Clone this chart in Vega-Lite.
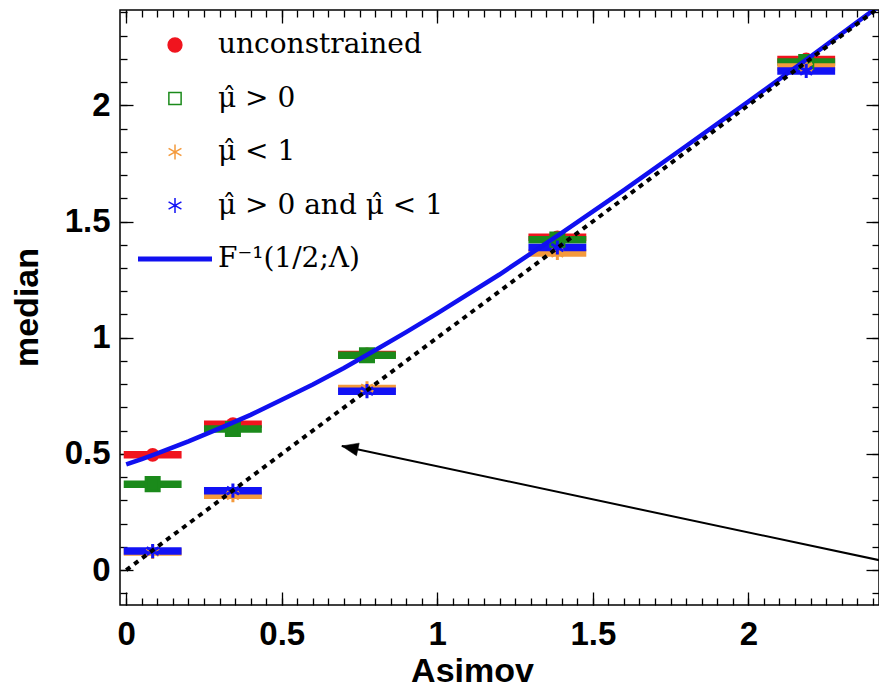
{
  "$schema": "https://vega.github.io/schema/vega-lite/v6.json",
  "width": 759,
  "height": 595,
  "autosize": {"type": "none"},
  "padding": {"left": 120, "top": 10, "right": 0, "bottom": 83},
  "background": "white",
  "config": {
    "view": {"stroke": "black", "strokeWidth": 1.5},
    "axis": {
      "grid": false, "domain": false, "tickColor": "black", "tickWidth": 1.3,
      "labelFont": "Liberation Sans", "labelFontWeight": "bold", "labelFontSize": 33, "labelColor": "black",
      "titleFont": "Liberation Sans", "titleFontWeight": "bold", "titleFontSize": 34, "titleColor": "black",
      "labelFlush": false, "labelOverlap": false
    },
    "legend": {
      "orient": "none", "legendX": 41, "legendY": 21,
      "symbolSize": 5476, "symbolStrokeWidth": 1.5, "symbolOffset": 0,
      "labelFont": "DejaVu Serif", "labelFontSize": 28, "labelColor": "black", "labelOffset": 29,
      "rowPadding": 25.5, "labelLimit": 600, "padding": 0
    }
  },
  "datasets": {
    "pts": [
      {"s": "unconstrained", "x": 0.085, "xlo": -0.008, "xhi": 0.178, "y": 0.496},
      {"s": "unconstrained", "x": 0.343, "xlo": 0.25, "xhi": 0.436, "y": 0.628},
      {"s": "unconstrained", "x": 0.774, "xlo": 0.681, "xhi": 0.867, "y": 0.928},
      {"s": "unconstrained", "x": 1.386, "xlo": 1.293, "xhi": 1.479, "y": 1.432},
      {"s": "unconstrained", "x": 2.186, "xlo": 2.093, "xhi": 2.279, "y": 2.197},
      {"s": "μ̂ > 0", "x": 0.085, "xlo": -0.008, "xhi": 0.178, "y": 0.37},
      {"s": "μ̂ > 0", "x": 0.343, "xlo": 0.25, "xhi": 0.436, "y": 0.607},
      {"s": "μ̂ > 0", "x": 0.774, "xlo": 0.681, "xhi": 0.867, "y": 0.925},
      {"s": "μ̂ > 0", "x": 1.386, "xlo": 1.293, "xhi": 1.479, "y": 1.422},
      {"s": "μ̂ > 0", "x": 2.186, "xlo": 2.093, "xhi": 2.279, "y": 2.186},
      {"s": "μ̂ < 1", "x": 0.085, "xlo": -0.008, "xhi": 0.178, "y": 0.078},
      {"s": "μ̂ < 1", "x": 0.343, "xlo": 0.25, "xhi": 0.436, "y": 0.322},
      {"s": "μ̂ < 1", "x": 0.774, "xlo": 0.681, "xhi": 0.867, "y": 0.782},
      {"s": "μ̂ < 1", "x": 1.386, "xlo": 1.293, "xhi": 1.479, "y": 1.365},
      {"s": "μ̂ < 1", "x": 2.186, "xlo": 2.093, "xhi": 2.279, "y": 2.165},
      {"s": "μ̂ > 0 and μ̂ < 1", "x": 0.085, "xlo": -0.008, "xhi": 0.178, "y": 0.082},
      {"s": "μ̂ > 0 and μ̂ < 1", "x": 0.343, "xlo": 0.25, "xhi": 0.436, "y": 0.342},
      {"s": "μ̂ > 0 and μ̂ < 1", "x": 0.774, "xlo": 0.681, "xhi": 0.867, "y": 0.77},
      {"s": "μ̂ > 0 and μ̂ < 1", "x": 1.386, "xlo": 1.293, "xhi": 1.479, "y": 1.388},
      {"s": "μ̂ > 0 and μ̂ < 1", "x": 2.186, "xlo": 2.093, "xhi": 2.279, "y": 2.148}
    ],
    "curve": [
      {"x": 0, "y": 0.455}, {"x": 0.05, "y": 0.478}, {"x": 0.1, "y": 0.502}, {"x": 0.2, "y": 0.554},
      {"x": 0.3, "y": 0.61}, {"x": 0.4, "y": 0.668}, {"x": 0.5, "y": 0.733}, {"x": 0.6, "y": 0.799},
      {"x": 0.7, "y": 0.87}, {"x": 0.8, "y": 0.946}, {"x": 0.9, "y": 1.024}, {"x": 1.0, "y": 1.105},
      {"x": 1.2, "y": 1.272}, {"x": 1.4, "y": 1.451}, {"x": 1.6, "y": 1.635}, {"x": 1.8, "y": 1.825},
      {"x": 2.0, "y": 2.016}, {"x": 2.2, "y": 2.21}, {"x": 2.45, "y": 2.457}
    ],
    "diag": [{"x": 0, "y": 0}, {"x": 2.45, "y": 2.45}],
    "arrow": [{"x": 0.693, "y": 0.534, "x2": 2.45, "y2": 0.0345}]
  },
  "layer": [
    {
      "data": {"name": "pts"},
      "mark": {"type": "rule", "strokeWidth": 7.5, "strokeCap": "butt"},
      "encoding": {
        "x": {"field": "xlo", "type": "quantitative",
          "scale": {"domain": [-0.02, 2.42], "nice": false, "zero": false},
          "axis": {"orient": "bottom", "values": [0, 0.5, 1, 1.5, 2], "format": "~g", "tickSize": -13, "labelPadding": 26,
            "title": "Asimov", "titleX": 352, "titleY": 76, "titleBaseline": "alphabetic", "titleAlign": "center"}},
        "x2": {"field": "xhi"},
        "y": {"field": "y", "type": "quantitative",
          "scale": {"domain": [-0.15, 2.41], "nice": false, "zero": false},
          "axis": {"orient": "left", "values": [0, 0.5, 1, 1.5, 2], "format": "~g", "tickSize": -13, "labelPadding": 23,
            "title": "median", "titleX": -83, "titleY": 297, "titleAngle": -90, "titleAlign": "center", "titleBaseline": "alphabetic"}},
        "stroke": {"field": "s", "type": "nominal",
          "scale": {"domain": ["unconstrained", "μ̂ > 0", "μ̂ < 1", "μ̂ > 0 and μ̂ < 1", "F⁻¹(1/2;Λ)"],
                    "range": ["#f0141e", "#1b8a1b", "#f49a3c", "#1212f5", "#1010f0"]},
          "legend": {"title": null, "encode": {"symbols": {"update": {
                  "size": {"signal": "datum.index === 4 ? 5476 : (datum.index === 0 ? 190 : (datum.index === 1 ? 150 : 220))"},
                  "strokeWidth": {"signal": "datum.index === 4 ? 5 : 1.5"},
                  "opacity": {"value": 1}}}}}}
      }
    },
    {
      "data": {"name": "pts"},
      "transform": [{"filter": "datum.s === 'unconstrained'"}],
      "mark": {"type": "point", "shape": "circle", "size": 190, "filled": true, "color": "#f0141e", "opacity": 1},
      "encoding": {
        "x": {"field": "x", "type": "quantitative", "axis": null},
        "y": {"field": "y", "type": "quantitative", "axis": null}
      }
    },
    {
      "data": {"name": "pts"},
      "transform": [{"filter": "datum.s === 'μ̂ > 0'"}],
      "mark": {"type": "point", "shape": "square", "size": 170, "fill": "#1b8a1b", "stroke": "#1b8a1b", "strokeWidth": 3, "opacity": 1},
      "encoding": {
        "x": {"field": "x", "type": "quantitative", "axis": null},
        "y": {"field": "y", "type": "quantitative", "axis": null}
      }
    },
    {
      "data": {"name": "pts"},
      "transform": [{"filter": "datum.s === 'μ̂ < 1' || datum.s === 'μ̂ > 0 and μ̂ < 1'"}],
      "mark": {"type": "point", "size": 200, "strokeWidth": 3, "opacity": 1},
      "encoding": {
        "x": {"field": "x", "type": "quantitative",
          "axis": {"orient": "bottom", "values": [0,0.05,0.1,0.15,0.2,0.25,0.3,0.35,0.4,0.45,0.5,0.55,0.6,0.65,0.7,0.75,0.8,0.85,0.9,0.95,1,1.05,1.1,1.15,1.2,1.25,1.3,1.35,1.4,1.45,1.5,1.55,1.6,1.65,1.7,1.75,1.8,1.85,1.9,1.95,2,2.05,2.1,2.15,2.2,2.25,2.3,2.35,2.4],
            "tickSize": -7, "labels": false, "title": null}},
        "y": {"field": "y", "type": "quantitative",
          "axis": {"orient": "left", "values": [-0.1,0,0.1,0.2,0.3,0.4,0.5,0.6,0.7,0.8,0.9,1,1.1,1.2,1.3,1.4,1.5,1.6,1.7,1.8,1.9,2,2.1,2.2,2.3,2.4],
            "tickSize": -7, "labels": false, "title": null}},
        "stroke": {"field": "s", "type": "nominal",
          "scale": {"domain": ["unconstrained", "μ̂ > 0", "μ̂ < 1", "μ̂ > 0 and μ̂ < 1", "F⁻¹(1/2;Λ)"],
                    "range": ["#f0141e", "#1b8a1b", "#f49a3c", "#1212f5", "#1010f0"]},
          "legend": {"title": null, "encode": {"symbols": {"update": {
                  "size": {"signal": "datum.index === 4 ? 5476 : (datum.index === 0 ? 190 : (datum.index === 1 ? 150 : 220))"},
                  "strokeWidth": {"signal": "datum.index === 4 ? 5 : 1.5"},
                  "opacity": {"value": 1}}}}}},
        "fill": {"field": "s", "type": "nominal",
          "scale": {"domain": ["unconstrained", "μ̂ > 0", "μ̂ < 1", "μ̂ > 0 and μ̂ < 1", "F⁻¹(1/2;Λ)"],
                    "range": ["#f0141e", "transparent", "#f49a3c", "#1212f5", "transparent"]},
          "legend": {"title": null, "encode": {"symbols": {"update": {
                  "size": {"signal": "datum.index === 4 ? 5476 : (datum.index === 0 ? 190 : (datum.index === 1 ? 150 : 220))"},
                  "strokeWidth": {"signal": "datum.index === 4 ? 5 : 1.5"},
                  "opacity": {"value": 1}}}}}},
        "shape": {"field": "s", "type": "nominal",
          "scale": {"domain": ["unconstrained", "μ̂ > 0", "μ̂ < 1", "μ̂ > 0 and μ̂ < 1", "F⁻¹(1/2;Λ)"],
                    "range": ["circle", "square", "M0,-1L0,1M-0.866,-0.5L0.866,0.5M-0.866,0.5L0.866,-0.5", "M0,-1L0,1M-0.866,-0.5L0.866,0.5M-0.866,0.5L0.866,-0.5", "stroke"]},
          "legend": {"title": null, "encode": {"symbols": {"update": {
                  "size": {"signal": "datum.index === 4 ? 5476 : (datum.index === 0 ? 190 : (datum.index === 1 ? 150 : 220))"},
                  "strokeWidth": {"signal": "datum.index === 4 ? 5 : 1.5"},
                  "opacity": {"value": 1}}}}}}
      }
    },
    {
      "data": {"name": "curve"},
      "mark": {"type": "line", "color": "#1010f0", "strokeWidth": 4.5, "clip": true},
      "encoding": {
        "x": {"field": "x", "type": "quantitative",
          "axis": {"orient": "top", "values": [0, 0.5, 1, 1.5, 2], "tickSize": -13, "labels": false, "title": null}},
        "y": {"field": "y", "type": "quantitative",
          "axis": {"orient": "right", "values": [0, 0.5, 1, 1.5, 2], "tickSize": -13, "labels": false, "title": null}}
      }
    },
    {
      "data": {"name": "diag"},
      "mark": {"type": "line", "color": "black", "strokeWidth": 4, "strokeDash": [5, 5], "clip": true},
      "encoding": {
        "x": {"field": "x", "type": "quantitative",
          "axis": {"orient": "top", "values": [0,0.05,0.1,0.15,0.2,0.25,0.3,0.35,0.4,0.45,0.5,0.55,0.6,0.65,0.7,0.75,0.8,0.85,0.9,0.95,1,1.05,1.1,1.15,1.2,1.25,1.3,1.35,1.4,1.45,1.5,1.55,1.6,1.65,1.7,1.75,1.8,1.85,1.9,1.95,2,2.05,2.1,2.15,2.2,2.25,2.3,2.35,2.4],
            "tickSize": -7, "labels": false, "title": null}},
        "y": {"field": "y", "type": "quantitative",
          "axis": {"orient": "right", "values": [-0.1,0,0.1,0.2,0.3,0.4,0.5,0.6,0.7,0.8,0.9,1,1.1,1.2,1.3,1.4,1.5,1.6,1.7,1.8,1.9,2,2.1,2.2,2.3,2.4],
            "tickSize": -7, "labels": false, "title": null}}
      }
    },
    {
      "data": {"name": "arrow"},
      "mark": {"type": "rule", "color": "black", "strokeWidth": 2, "clip": true},
      "encoding": {
        "x": {"field": "x", "type": "quantitative", "axis": null},
        "y": {"field": "y", "type": "quantitative", "axis": null},
        "x2": {"field": "x2"},
        "y2": {"field": "y2"}
      }
    },
    {
      "data": {"name": "arrow"},
      "mark": {"type": "point", "shape": "M0,0L1.4,-0.55L1.4,0.55Z", "size": 550, "angle": 12, "fill": "black", "stroke": "black", "strokeWidth": 0.5, "opacity": 1},
      "encoding": {
        "x": {"field": "x", "type": "quantitative", "axis": null},
        "y": {"field": "y", "type": "quantitative", "axis": null}
      }
    }
  ],
  "resolve": {"axis": {"x": "independent", "y": "independent"}}
}
